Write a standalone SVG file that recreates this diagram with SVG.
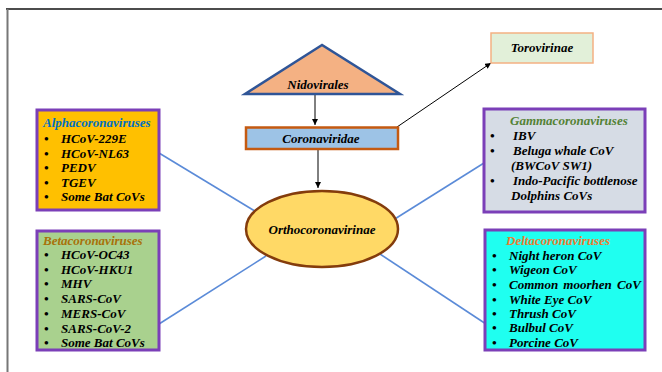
<svg xmlns="http://www.w3.org/2000/svg" width="662" height="372" viewBox="0 0 662 372">
<defs>
<marker id="ah" viewBox="0 0 10 10" refX="10" refY="5" markerWidth="6" markerHeight="6" orient="auto" markerUnits="userSpaceOnUse">
<path d="M0,0 L10,5 L0,10 z" fill="#000"/>
</marker>
<style>
text{font-family:'Liberation Serif','DejaVu Serif','Times New Roman',serif;font-weight:bold;font-style:italic;font-size:13px;fill:#000}
.box{stroke:#7B3FB8;stroke-width:3}
.link{stroke:#5B8BD8;stroke-width:1.6;fill:none}
.arr{stroke:#000;stroke-width:1;fill:none}
.c{text-anchor:middle}
</style>
</defs>
<rect x="0" y="0" width="662" height="372" fill="#fff"/>
<line x1="6" y1="9" x2="662" y2="9" stroke="#111" stroke-width="1.3"/>
<line x1="7.5" y1="9" x2="7.5" y2="372" stroke="#777" stroke-width="2"/>

<g id="connectors">
<line class="link" x1="159" y1="153" x2="258" y2="213"/>
<line class="link" x1="159" y1="324" x2="266" y2="256"/>
<line class="link" x1="390" y1="222" x2="484" y2="163"/>
<line class="link" x1="380" y1="254" x2="486" y2="324"/>
<line class="arr" x1="315" y1="95" x2="315" y2="125" marker-end="url(#ah)"/>
<line class="arr" x1="318" y1="150" x2="318" y2="188" marker-end="url(#ah)"/>
<line class="arr" x1="397" y1="127" x2="491" y2="63" marker-end="url(#ah)"/>
</g>

<g id="nidovirales" font-family="Liberation Serif, serif">
<polygon points="322,45 245,94 400,94" fill="#F4B183" stroke="#2F5597" stroke-width="2.5"/>
<text class="c" x="318" y="89">Nidovirales</text>
</g>

<g id="coronaviridae">
<rect x="246" y="127.5" width="152" height="21.5" fill="#9DC3E6" stroke="#C55A11" stroke-width="2.5"/>
<text class="c" x="321" y="143">Coronaviridae</text>
</g>

<g id="torovirinae">
<rect x="491" y="33" width="102" height="30" fill="#E2F0D9" stroke="#F4B183" stroke-width="1.5"/>
<text class="c" x="542" y="52">Torovirinae</text>
</g>

<g id="orthocoronavirinae">
<ellipse cx="322" cy="229" rx="76" ry="38" fill="#FFD966" stroke="#843C0C" stroke-width="2.5"/>
<text class="c" x="322" y="234">Orthocoronavirinae</text>
</g>

<g id="alpha">
<rect class="box" x="37" y="110" width="122" height="100" fill="#FFC000"/>
<text x="43" y="127" style="fill:#0070C0">Alphacoronaviruses</text>
<text x="44" y="143">•</text><text x="61" y="143">HCoV-229E</text>
<text x="44" y="157.5">•</text><text x="61" y="157.5">HCoV-NL63</text>
<text x="44" y="172">•</text><text x="61" y="172">PEDV</text>
<text x="44" y="186.5">•</text><text x="61" y="186.5">TGEV</text>
<text x="44" y="201">•</text><text x="61" y="201">Some Bat CoVs</text>
</g>

<g id="beta">
<rect class="box" x="37" y="231" width="122" height="119" fill="#A9D18E"/>
<text x="43" y="245" style="fill:#A8720A">Betacoronaviruses</text>
<text x="44" y="259">•</text><text x="61" y="259">HCoV-OC43</text>
<text x="44" y="273.5">•</text><text x="61" y="273.5">HCoV-HKU1</text>
<text x="44" y="288">•</text><text x="61" y="288">MHV</text>
<text x="44" y="303">•</text><text x="61" y="303">SARS-CoV</text>
<text x="44" y="318">•</text><text x="61" y="318">MERS-CoV</text>
<text x="44" y="332.5">•</text><text x="61" y="332.5">SARS-CoV-2</text>
<text x="44" y="347">•</text><text x="61" y="347">Some Bat CoVs</text>
</g>

<g id="gamma">
<rect class="box" x="484" y="109" width="161" height="103" fill="#D6DCE5"/>
<text x="510" y="125" style="fill:#548235">Gammacoronaviruses</text>
<text x="490" y="140">•</text><text x="513" y="140">IBV</text>
<text x="490" y="155">•</text><text x="513" y="155">Beluga whale CoV</text>
<text x="511" y="170">(BWCoV SW1)</text>
<text x="490" y="184.5">•</text><text x="513" y="184.5">Indo-Pacific bottlenose</text>
<text x="511" y="199.5">Dolphins CoVs</text>
</g>

<g id="delta">
<rect class="box" x="485" y="230" width="160" height="120" fill="#1FFFF0"/>
<text x="506" y="245" style="fill:#ED7D31">Deltacoronaviruses</text>
<text x="492" y="260">•</text><text x="509" y="260">Night heron CoV</text>
<text x="492" y="274">•</text><text x="509" y="274">Wigeon CoV</text>
<text x="492" y="289">•</text><text x="509" y="289" style="word-spacing:2px">Common moorhen CoV</text>
<text x="492" y="303.5">•</text><text x="509" y="303.5">White Eye CoV</text>
<text x="492" y="318">•</text><text x="509" y="318">Thrush CoV</text>
<text x="492" y="332">•</text><text x="509" y="332">Bulbul CoV</text>
<text x="492" y="346.5">•</text><text x="509" y="346.5">Porcine CoV</text>
</g>
</svg>
